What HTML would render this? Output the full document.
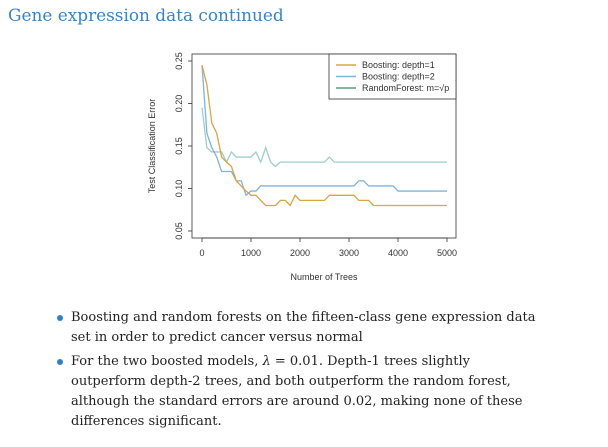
<!DOCTYPE html>
<html><head><meta charset="utf-8">
<style>
body{margin:0;width:608px;height:447px;background:#fff;position:relative;overflow:hidden;font-family:"DejaVu Serif","Liberation Serif",serif;}
.t{position:absolute;white-space:nowrap;font-size:13px;color:#222;line-height:20px;}
.b{position:absolute;width:6px;height:6px;border-radius:3px;background:#2f80d0;}
</style></head><body>
<div style="position:absolute;left:8px;top:5px;font-size:16.9px;color:#3b82c8;white-space:nowrap;">Gene expression data continued</div>
<svg id="chart" width="608" height="300" style="position:absolute;left:0;top:0" font-family="Liberation Sans, sans-serif"></svg>
<div class="b" style="left:57px;top:315px"></div>
<div class="t" style="left:71px;top:308px">Boosting and random forests on the fifteen-class gene expression data</div>
<div class="t" style="left:71px;top:328px">set in order to predict cancer versus normal</div>
<div class="b" style="left:57px;top:359px"></div>
<div class="t" style="left:71px;top:352px">For the two boosted models, <i>λ</i> = 0.01. Depth-1 trees slightly</div>
<div class="t" style="left:71px;top:372px">outperform depth-2 trees, and both outperform the random forest,</div>
<div class="t" style="left:71px;top:392px">although the standard errors are around 0.02, making none of these</div>
<div class="t" style="left:71px;top:412px">differences significant.</div>
<script>
const d1x=[0,100,200,300,400,500,600,700,800,900,1000,1100,1200,1300,1500,1600,1700,1800,1900,2000,2500,2600,3100,3200,3400,3500,5000];
const d1y=[0.245,0.222,0.177,0.165,0.137,0.131,0.126,0.109,0.103,0.097,0.092,0.092,0.086,0.080,0.080,0.086,0.086,0.080,0.092,0.086,0.086,0.092,0.092,0.086,0.086,0.080,0.080];
const d2x=[0,100,200,300,400,600,700,800,900,1000,1100,1200,3100,3200,3300,3400,3900,4000,5000];
const d2y=[0.245,0.165,0.148,0.137,0.120,0.120,0.109,0.109,0.092,0.097,0.097,0.103,0.103,0.109,0.109,0.103,0.103,0.097,0.097];
const rfx=[0,100,200,400,500,600,700,1000,1100,1200,1300,1400,1500,1600,2500,2600,2700,5000];
const rfy=[0.195,0.148,0.143,0.143,0.131,0.143,0.137,0.137,0.143,0.131,0.148,0.131,0.126,0.131,0.131,0.137,0.131,0.131];
const xTicks=[0,1000,2000,3000,4000,5000];
const yTicks=[0.05,0.10,0.15,0.20,0.25];
const X=v=>202+v*(447-202)/5000, Y=v=>231-(v-0.05)*(231-61)/0.2;
const s=document.getElementById('chart'),NS='http://www.w3.org/2000/svg';
function mk(t,a,p){const e=document.createElementNS(NS,t);for(const k in a)e.setAttribute(k,a[k]);(p||s).appendChild(e);return e;}
let e=mk('rect',{x:192,y:54,width:264,height:184,fill:'none',stroke:'#333','stroke-width':0.8});


mk('line',{x1:X(0),x2:X(5000),y1:238,y2:238,stroke:'#333','stroke-width':0.8});
xTicks.forEach(v=>{mk('line',{x1:X(v),x2:X(v),y1:238,y2:242,stroke:'#333','stroke-width':0.8});
 const t=mk('text',{x:X(v),y:256,'font-size':9,'text-anchor':'middle',fill:'#333'});t.textContent=v;
 
 });
yTicks.forEach(v=>{mk('line',{x1:188,x2:192,y1:Y(v),y2:Y(v),stroke:'#333','stroke-width':0.8});
 const t=mk('text',{x:0,y:0,'font-size':9,'text-anchor':'middle',fill:'#333',transform:`translate(182,${Y(v)}) rotate(-90)`});t.textContent=v.toFixed(2);
 
 });
let t=mk('text',{x:324,y:280,'font-size':9,'text-anchor':'middle',fill:'#333'});t.textContent='Number of Trees';


t=mk('text',{x:0,y:0,'font-size':9,'text-anchor':'middle',fill:'#333',transform:'translate(155,146) rotate(-90)'});t.textContent='Test Classification Error';


function line(xs,ys,c,n){const p=mk('polyline',{points:xs.map((x,i)=>X(x)+','+Y(ys[i])).join(' '),fill:'none',stroke:c,'stroke-width':1.3});
 
 }
line(rfx,rfy,'#9dcfc9','line-random-forest');
line(d2x,d2y,'#7fb3dd','line-depth-2');
line(d1x,d1y,'#d9a640','line-depth-1');
const lg=mk('g',{});


mk('rect',{x:329,y:54,width:127,height:45,fill:'#fff',stroke:'#333','stroke-width':0.8},lg);
[['Boosting: depth=1','#d9a640'],['Boosting: depth=2','#7fb3dd'],['RandomForest: m=\u221Ap','#5a9e80']].forEach((r,i)=>{
 const y=65+i*11.5;mk('line',{x1:336,x2:356,y1:y,y2:y,stroke:r[1],'stroke-width':1.5},lg);
 const tt=mk('text',{x:362,y:y+3,'font-size':9,fill:'#333'},lg);tt.textContent=r[0];});
</script>
</body></html>
